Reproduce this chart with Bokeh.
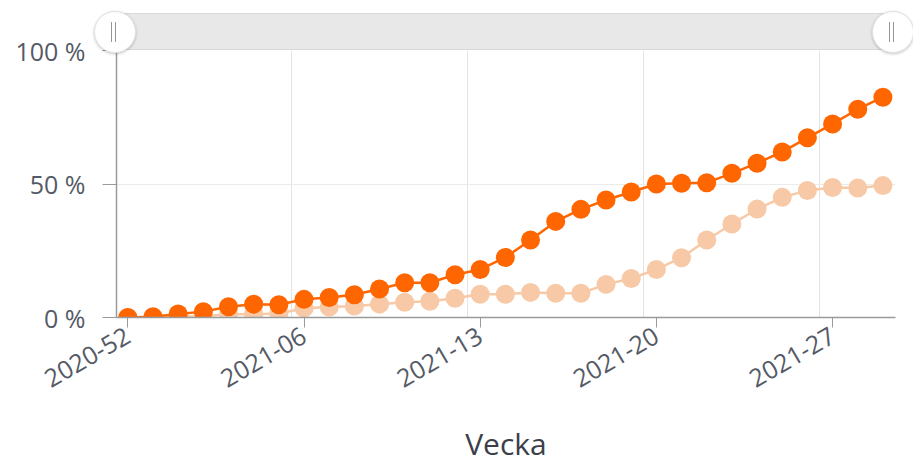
from math import pi
from bokeh.plotting import figure
from bokeh.models import Range1d, FixedTicker, ColumnDataSource, GridBox, Div
from bokeh.embed import file_html
from bokeh.resources import INLINE

# ---- data ----
weeks = ["2020-52", "2020-53", "2021-01", "2021-02", "2021-03", "2021-04", "2021-05",
         "2021-06", "2021-07", "2021-08", "2021-09", "2021-10", "2021-11", "2021-12",
         "2021-13", "2021-14", "2021-15", "2021-16", "2021-17", "2021-18", "2021-19",
         "2021-20", "2021-21", "2021-22", "2021-23", "2021-24", "2021-25", "2021-26",
         "2021-27", "2021-28", "2021-29"]
dose1 = [0, 0.3, 1.3, 2.2, 4, 5, 4.8, 6.8, 7.5, 8.5, 10.7, 13, 13, 16, 18, 22.5,
         29, 36, 40.5, 44, 47, 50, 50.3, 50.5, 54, 57.8, 62, 67.3, 72.5, 78, 82.5]
dose2 = [0, 0, 0.3, 0.5, 1.2, 1.2, 1.5, 3.5, 3.9, 4.3, 5, 5.7, 6.1, 7.2, 8.7, 8.7,
         9.4, 9.1, 9.1, 12.4, 14.6, 18, 22.4, 29, 35, 40.6, 45, 47.6, 48.7, 48.5, 49.4]
tick_weeks = ["2020-52", "2021-06", "2021-13", "2021-20", "2021-27"]
y_ticks = [0, 50, 100]
y_tick_labels = ["0 %", "50 %", "100 %"]
x_title = "Vecka"

DARK = "#ff6600"
LIGHT = "#f7c9a6"
FONT = "Open Sans"

W, H = 913, 466
BL, BR, BT, BB = 116, 18, 50, 145
frame_w = W - BL - BR
frame_h = H - BT - BB

x_idx = list(range(len(weeks)))
src = ColumnDataSource(dict(x=x_idx, week=weeks, d1=dose1, d2=dose2))

x_lo, x_hi = -0.45, len(weeks) - 0.5
y_lo, y_hi = 0, 100

p = figure(width=W, height=H, output_backend="svg", toolbar_location=None,
           x_range=Range1d(x_lo, x_hi), y_range=Range1d(y_lo, y_hi),
           min_border_left=BL, min_border_right=BR, min_border_top=BT, min_border_bottom=BB)
p.outline_line_color = None
p.background_fill_color = "white"
p.border_fill_color = "white"

# lines and markers
p.line("x", "d2", source=src, line_color=LIGHT, line_width=2.5)
p.scatter("x", "d2", source=src, size=19, fill_color=LIGHT, line_color=None)
p.line("x", "d1", source=src, line_color=DARK, line_width=2.5)
p.scatter("x", "d1", source=src, size=19, fill_color=DARK, line_color=None)

# x axis
tick_pos = [weeks.index(w) for w in tick_weeks]
p.xaxis.ticker = FixedTicker(ticks=tick_pos)
p.xaxis.major_label_overrides = {i: weeks[i] for i in tick_pos}
p.xaxis.major_label_orientation = pi / 6
p.xaxis.minor_tick_line_color = None
p.xaxis.major_tick_out = 10
p.xaxis.major_tick_in = 0
p.xaxis.axis_line_color = "#9a9a9a"
p.xaxis.major_tick_line_color = "#9a9a9a"
p.xaxis.axis_line_width = 1.5
p.xaxis.major_label_text_font = FONT
p.xaxis.major_label_text_font_size = "25px"
p.xaxis.major_label_text_color = "#555a66"
p.xaxis.major_label_standoff = 6
p.xaxis.axis_label = x_title
p.xaxis.axis_label_text_font = FONT
p.xaxis.axis_label_text_font_size = "30px"
p.xaxis.axis_label_text_font_style = "normal"
p.xaxis.axis_label_text_color = "#3c3f4a"
p.xaxis.axis_label_standoff = 24

# y axis
p.yaxis.ticker = FixedTicker(ticks=y_ticks)
p.yaxis.major_label_overrides = {t: l for t, l in zip(y_ticks, y_tick_labels)}
p.yaxis.minor_tick_line_color = None
p.yaxis.major_tick_out = 14
p.yaxis.major_tick_in = 0
p.yaxis.axis_line_color = "#9a9a9a"
p.yaxis.major_tick_line_color = "#9a9a9a"
p.yaxis.axis_line_width = 1.5
p.yaxis.major_label_text_font = FONT
p.yaxis.major_label_text_font_size = "25px"
p.yaxis.major_label_text_color = "#555a66"
p.yaxis.major_label_standoff = 17

# grids: vertical lines at week-band boundaries
p.xgrid.ticker = FixedTicker(ticks=[t - 0.5 for t in tick_pos])
p.xgrid.grid_line_color = "#e3e3e3"
p.ygrid.ticker = FixedTicker(ticks=y_ticks)
p.ygrid.grid_line_color = "#ebebeb"

# ---- range navigator (UI chrome) overlaid above the plot frame ----
NAV_H = 60
bar_l, bar_r = BL - 1, BL + frame_w - 2
bar_top, bar_h = 13, BT - 13
hcy, hd = 32, 42
handles = ""
for cx in (bar_l, bar_r):
    handles += (
        f'<div style="position:absolute;left:{cx - hd // 2}px;top:{hcy - hd // 2}px;'
        f'width:{hd}px;height:{hd}px;border-radius:50%;background:#fff;'
        f'border:1px solid #e2e2e2;box-sizing:border-box;'
        f'box-shadow:0 1px 3px rgba(0,0,0,0.22);"></div>'
        f'<div style="position:absolute;left:{cx - 4}px;top:{hcy - 10}px;width:5px;'
        f'height:20px;border-left:1.5px solid #959595;border-right:1.5px solid #959595;"></div>'
    )
nav_html = (
    f'<div style="position:relative;width:{W}px;height:{NAV_H}px;overflow:hidden;">'
    f'<div style="position:absolute;left:{bar_l}px;top:{bar_top}px;width:{bar_r - bar_l}px;'
    f'height:{bar_h}px;background:#e8e8e8;border:1px solid #d9d9d9;box-sizing:border-box;"></div>'
    f'{handles}</div>'
)
nav = Div(text=nav_html, width=W, height=NAV_H, margin=0)

layout = GridBox(children=[(p, 0, 0), (nav, 0, 0)])
open("out.html", "w").write(file_html(layout, INLINE))
